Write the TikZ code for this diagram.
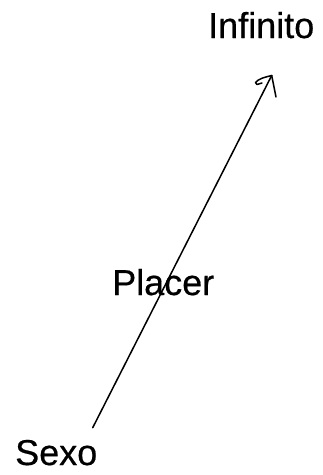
\documentclass[tikz,border=0pt]{standalone}
\usepackage{fontspec}
\setmainfont{Liberation Sans}
\newfontfamily\heavyfont{Liberation Sans}[UprightFeatures={FakeBold=0.5}]
\begin{document}
\begin{tikzpicture}[x=1pt,y=-1pt,
  lbl/.style={anchor=base west,inner sep=0pt,font=\fontsize{36}{40}\selectfont\heavyfont},
  stroke/.style={line width=1.5pt,line cap=round,line join=round}]
\useasboundingbox (0,0) rectangle (323,475);
\node[lbl] (infinito) at (208,38) {Infinito};
\node[lbl] (placer) at (112,295) {Placer};
\node[lbl] (sexo) at (15,465) {Sexo};
\coordinate (start) at (92.7,427.7);
\coordinate (tip) at (271.7,75.5);
\draw[stroke] (start) -- (tip);
\draw[stroke] (tip) -- (276,97);
\draw[stroke] (tip) .. controls (265,77) and (258,79) .. (255.5,82.5) -- (257,84.5) -- (262,83);
\end{tikzpicture}
\end{document}
